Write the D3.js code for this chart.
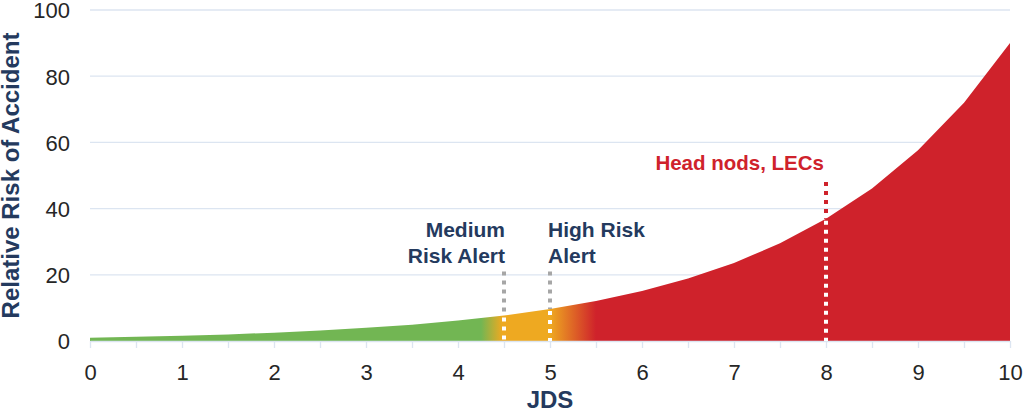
<!doctype html>
<html>
<head>
<meta charset="utf-8" />
<title>Relative risk of accident vs JDS</title>
<script src="https://cdn.jsdelivr.net/npm/d3@7"></script>
<style>
  body { margin: 0; background: #fff; }
  svg { display: block; font-family: "Liberation Sans", Arial, sans-serif; }
</style>
</head>
<body>
<svg id="chart" width="1024" height="409"></svg>
<script>
// data
var jds = [0, 0.5, 1, 1.5, 2, 2.5, 3, 3.5, 4, 4.5, 5, 5.5, 6, 6.5, 7, 7.5, 8, 8.5, 9, 9.5, 10];
var risk = [1.0, 1.3, 1.6, 2.0, 2.5, 3.2, 4.0, 4.9, 6.2, 7.7, 9.7, 12.1, 15.1, 18.9, 23.6, 29.5, 36.9, 46.1, 57.6, 72.0, 90.0];
var xTicks = [0, 1, 2, 3, 4, 5, 6, 7, 8, 9, 10];
var yTicks = [0, 20, 40, 60, 80, 100];

// alert markers: x position, top of dotted line, label lines
var markerX = [4.5, 5, 8];
var markerTop = [21, 21, 48];
var markerLabels = [["Medium", "Risk Alert"], ["High Risk", "Alert"], ["Head nods, LECs"]];

var navy = "#243a5e", red = "#cf222b";

var svg = d3.select("#chart");
var margin = {top: 10, right: 14, bottom: 68, left: 90};
var W = 1024 - margin.left - margin.right, H = 409 - margin.top - margin.bottom;
var g = svg.append("g").attr("transform", "translate(" + margin.left + "," + margin.top + ")");

var x = d3.scaleLinear().domain([0, 10]).range([0, W]);
var y = d3.scaleLinear().domain([0, 100]).range([H, 0]);

// gradient along x: green -> orange -> red
var grad = svg.append("defs").append("linearGradient")
    .attr("id", "riskGrad").attr("gradientUnits", "userSpaceOnUse")
    .attr("x1", 0).attr("x2", W).attr("y1", 0).attr("y2", 0);
[[0, "#72b653"], [4.25, "#72b653"], [4.48, "#eea921"], [5.0, "#eea921"], [5.5, "#cf222b"], [10, "#cf222b"]]
    .forEach(function(s) { grad.append("stop").attr("offset", s[0] / 10).attr("stop-color", s[1]); });

// gridlines
g.selectAll("line.grid").data(yTicks.filter(function(d) { return d > 0; })).enter()
    .append("line").attr("class", "grid")
    .attr("x1", 0).attr("x2", W)
    .attr("y1", function(d) { return y(d); }).attr("y2", function(d) { return y(d); })
    .attr("stroke", "#dce5f1").attr("stroke-width", 1.3);

// area
var area = d3.area().x(function(d, i) { return x(jds[i]); }).y0(y(0)).y1(function(d) { return y(d); });
g.append("path").datum(risk).attr("d", area).attr("fill", "url(#riskGrad)");

// x axis with minor ticks every 0.5
var xAxis = g.append("g").attr("transform", "translate(0," + H + ")")
    .call(d3.axisBottom(x).tickValues(jds).tickSize(7).tickSizeOuter(0)
        .tickFormat(function(d) { return xTicks.indexOf(d) >= 0 ? d : ""; }));
xAxis.select(".domain").attr("stroke", "#dce5f1").attr("stroke-width", 1.5);
xAxis.selectAll(".tick line").attr("stroke", "#dce5f1").attr("stroke-width", 1.3);
xAxis.selectAll(".tick text").attr("font-size", 22).attr("fill", "#262626")
    .attr("font-family", "Liberation Sans, Arial, sans-serif").attr("dy", "0").attr("y", 39);

// y axis labels
var yAxis = g.append("g").call(d3.axisLeft(y).tickValues(yTicks).tickSize(0).tickPadding(20));
yAxis.select(".domain").remove();
yAxis.selectAll(".tick text").attr("font-size", 22).attr("fill", "#262626")
    .attr("font-family", "Liberation Sans, Arial, sans-serif").attr("dy", "0.36em");

// dotted markers
markerX.forEach(function(mx, i) {
    var v = risk[jds.indexOf(mx)];
    var above = i === 2 ? red : "#a6a6a6";
    g.append("line").attr("x1", x(mx)).attr("x2", x(mx))
        .attr("y1", y(markerTop[i])).attr("y2", y(v))
        .attr("stroke", above).attr("stroke-width", 4).attr("stroke-dasharray", "4,5");
    g.append("line").attr("x1", x(mx)).attr("x2", x(mx))
        .attr("y1", y(v) + 2).attr("y2", y(0))
        .attr("stroke", "#fff").attr("stroke-width", 4).attr("stroke-dasharray", "4,5");
});

// marker labels
function label(lines, px, anchor, color, baseY, size) {
    var t = g.append("text").attr("text-anchor", anchor).attr("fill", color)
        .attr("font-weight", "bold").attr("font-size", size);
    lines.forEach(function(s, k) {
        t.append("tspan").attr("x", px).attr("y", baseY + k * 26).text(s);
    });
}
label(markerLabels[0], x(4.5) + 1, "end", navy, 227, 21);
label(markerLabels[1], x(5) - 2, "start", navy, 227, 21);
label(markerLabels[2], x(8) - 2, "end", red, 160, 20.5);

// axis titles
svg.append("text").attr("transform", "translate(19," + (margin.top + H / 2) + ") rotate(-90)")
    .attr("text-anchor", "middle").attr("font-weight", "bold").attr("font-size", 24)
    .attr("fill", navy).text("Relative Risk of Accident");
svg.append("text").attr("x", margin.left + W / 2).attr("y", 408)
    .attr("text-anchor", "middle").attr("font-weight", "bold").attr("font-size", 24)
    .attr("fill", navy).text("JDS");
</script>
</body>
</html>
